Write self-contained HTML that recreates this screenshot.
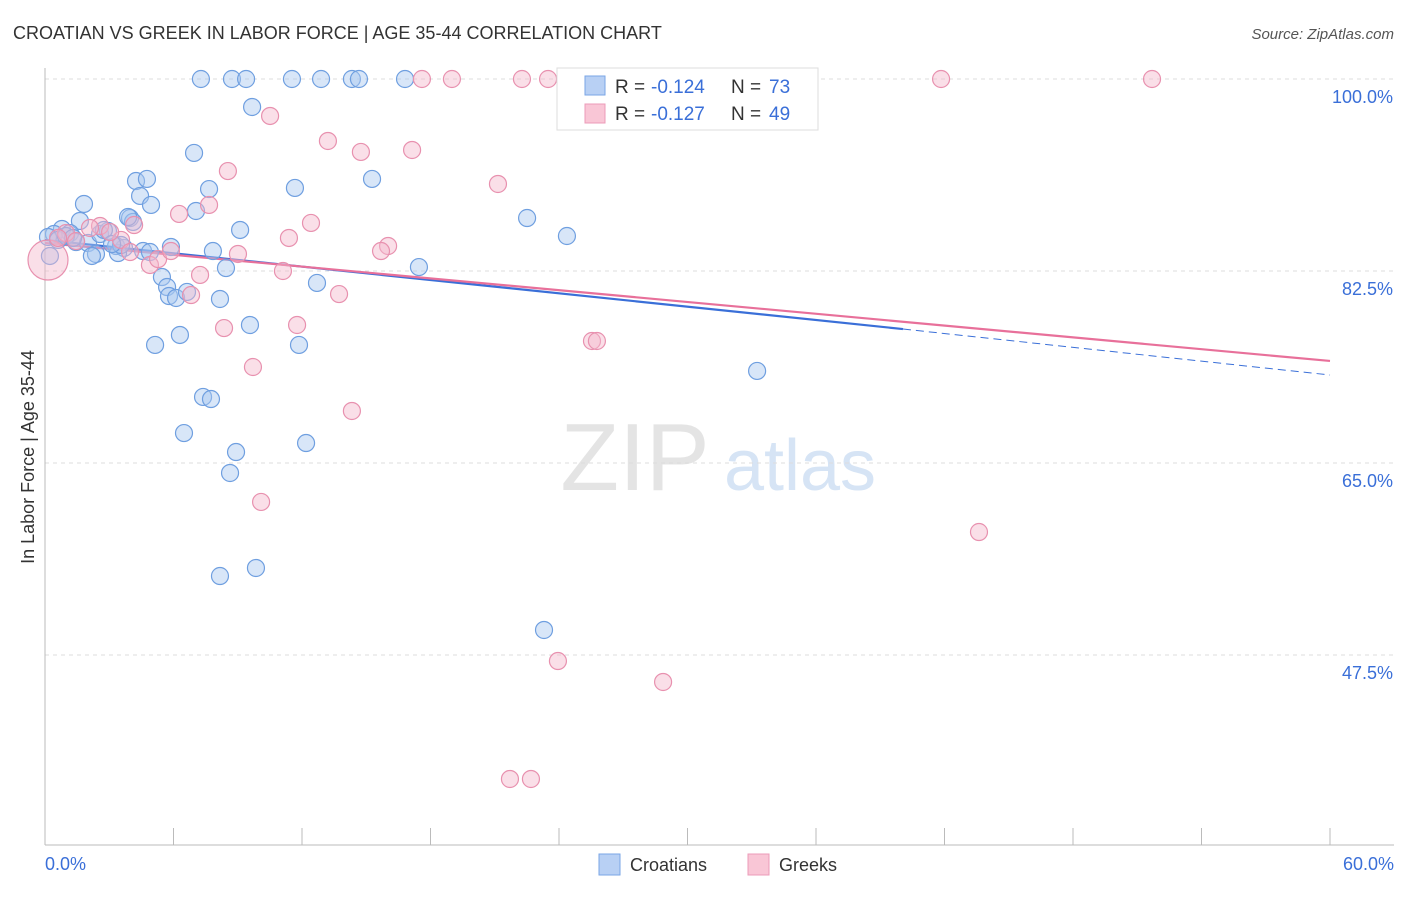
<!DOCTYPE html>
<html><head><meta charset="utf-8"><style>
body{margin:0;background:#fff;font-family:"Liberation Sans",sans-serif}
svg text{font-family:"Liberation Sans",sans-serif}
</style></head><body>
<svg id="chart" width="1406" height="892" viewBox="0 0 1406 892">
<text x="13" y="39" font-size="18" fill="#333">CROATIAN VS GREEK IN LABOR FORCE | AGE 35-44 CORRELATION CHART</text>
<text x="1394" y="39" font-size="15" fill="#555" text-anchor="end" font-style="italic">Source: ZipAtlas.com</text>
<text transform="translate(34,457) rotate(-90)" font-size="18" fill="#333" text-anchor="middle">In Labor Force | Age 35-44</text>
<g><text x="635" y="490" font-size="96" fill="#e4e4e4" text-anchor="middle" font-family="Liberation Serif">ZIP</text><text x="800" y="490" font-size="72" fill="#d6e4f5" text-anchor="middle">atlas</text></g>
<g id="grid"></g><g id="axes"></g><g id="lines"></g><g id="points"></g>
<g>
<rect x="557" y="68" width="261" height="62" fill="#fff" stroke="#ddd"/>
<rect x="585" y="76" width="20" height="19" fill="#b8d0f4" stroke="#7aa6e6"/>
<rect x="585" y="104" width="20" height="19" fill="#f9c6d6" stroke="#ec9bb8"/>
<text x="615" y="93" font-size="19" fill="#333">R =</text><text x="651" y="93" font-size="19" fill="#3a6fd8">-0.124</text>
<text x="731" y="93" font-size="19" fill="#333">N =</text><text x="769" y="93" font-size="19" fill="#3a6fd8">73</text>
<text x="615" y="120" font-size="19" fill="#333">R =</text><text x="651" y="120" font-size="19" fill="#3a6fd8">-0.127</text>
<text x="731" y="120" font-size="19" fill="#333">N =</text><text x="769" y="120" font-size="19" fill="#3a6fd8">49</text>
</g>
<g>
<rect x="599" y="854" width="21" height="21" fill="#b8d0f4" stroke="#7aa6e6"/>
<text x="630" y="871" font-size="18" fill="#333">Croatians</text>
<rect x="748" y="854" width="21" height="21" fill="#f9c6d6" stroke="#ec9bb8"/>
<text x="779" y="871" font-size="18" fill="#333">Greeks</text>
</g>
</svg>
<script>
const yTicks=[100,82.5,65,47.5];
const yTickLabels=["100.0%","82.5%","65.0%","47.5%"];
const xTickLabels=["0.0%","60.0%"];
const croatX=[7.28,8.73,9.39,11.53,12.89,14.33,14.66,16.81,9.67,6.96,4.25,4.76,4.44,4.95,7.66,11.67,15.27,1.82,7.05,9.11,22.51,24.37,1.63,0.79,0.42,1.17,0.14,1.45,2.01,2.57,2.94,3.97,4.11,3.32,3.69,3.41,2.38,4.58,5.88,7.84,8.45,17.46,5.46,5.7,5.79,6.12,6.63,8.17,12.7,9.57,6.3,5.14,11.86,33.25,7.38,7.75,6.49,12.19,8.92,8.64,9.85,8.17,23.3,0.23,0.61,0.98,1.31,2.75,3.55,3.88,3.13,2.19,4.9];
const croatY=[100,100,100,100,100,100,100,100,97.45,93.26,90.7,90.89,89.34,88.52,89.97,90.07,90.89,88.61,87.97,86.24,87.33,85.69,87.06,86.33,85.87,85.96,85.6,85.14,85.05,85.87,86.15,87.33,86.97,84.78,84.6,84.14,84.05,84.32,84.69,84.32,82.77,82.86,81.95,81.04,80.22,80.04,80.59,79.95,81.41,77.58,76.67,75.76,75.76,73.39,71.02,70.83,67.73,66.82,66.0,64.09,55.43,54.7,49.78,83.87,85.33,85.69,85.51,86.24,84.87,87.42,84.96,83.87,84.23];
const greekX=[17.6,19.0,22.27,23.49,24.98,41.84,51.69,10.51,13.21,14.75,17.14,8.54,21.15,7.66,6.26,12.42,11.39,16.02,15.69,9.01,4.9,5.28,5.88,3.55,2.57,4.16,3.04,0.98,2.1,1.45,7.24,6.82,11.11,13.73,8.36,11.77,25.54,25.77,9.71,14.33,10.09,43.61,23.95,28.86,21.71,22.69,0.14,0.61,3.97];
const greekY=[100,100,100,100,100,100,100,96.63,94.35,93.35,93.53,91.61,90.43,88.52,87.7,86.88,85.51,84.78,84.32,84.05,83.05,83.59,84.32,85.33,86.6,86.69,86.05,85.96,86.42,85.23,82.14,80.31,82.5,80.4,77.3,77.58,76.12,76.12,73.75,69.74,61.45,58.71,46.95,45.04,36.2,36.2,83.5,85.51,84.23];
const croatTrend=[85.33,77.21,73.02];
const croatTrendX=[0,40.06,60];
const greekTrend=[85.05,74.3];
const greekTrendX=[0,60];
const NS="http://www.w3.org/2000/svg";
const X=v=>45+v/60*1285, Y=v=>79+(100-v)/17.5*192;
function mk(t,a,p){const e=document.createElementNS(NS,t);for(const k in a)e.setAttribute(k,a[k]);document.getElementById(p).appendChild(e);return e;}
yTicks.forEach((t,i)=>{
 const l=mk('line',{x1:45,x2:1394,y1:Y(t),y2:Y(t),stroke:'#ddd','stroke-dasharray':'4,4'},'grid');
 
 
 const tx=mk('text',{x:1393,y:Y(t)+24,'font-size':18,fill:'#3a6fd8','text-anchor':'end'},'axes');tx.textContent=yTickLabels[i];
 
 
});
const ax=mk('line',{x1:45,x2:45,y1:68,y2:845,stroke:'#bbb'},'axes');


const bx=mk('line',{x1:45,x2:1394,y1:845,y2:845,stroke:'#bbb'},'axes');


for(let i=0;i<=10;i++){const t=mk('line',{x1:X(i*6),x2:X(i*6),y1:828,y2:845,stroke:'#bbb'},'axes');
 
 }
[[0,'start',45],[60,'end',1394]].forEach((d,i)=>{const t=mk('text',{x:d[2],y:870,'font-size':18,fill:'#3a6fd8','text-anchor':d[1]},'axes');t.textContent=xTickLabels[i];
 
 });
function dot(x,y,r,f,s){const c=mk('circle',{cx:X(x),cy:Y(y),r:r,fill:f,'fill-opacity':0.45,stroke:s,'stroke-width':1.2},'points');return c;}
croatX.forEach((x,i)=>{const c=dot(x,croatY[i],8.5,'#a9c8f0','#6f9fe0');
 
 });
greekX.forEach((x,i)=>{const c=dot(x,greekY[i],i==46?20:8.5,'#f5b8cc','#e891af');
 
 });
const b1=mk('line',{x1:X(croatTrendX[0]),y1:Y(croatTrend[0]),x2:X(croatTrendX[1]),y2:Y(croatTrend[1]),stroke:'#3a6fd8','stroke-width':2.2},'lines');


const b2=mk('line',{x1:X(croatTrendX[1]),y1:Y(croatTrend[1]),x2:X(croatTrendX[2]),y2:Y(croatTrend[2]),stroke:'#3a6fd8','stroke-width':1,'stroke-dasharray':'8,5'},'lines');


const p1=mk('line',{x1:X(greekTrendX[0]),y1:Y(greekTrend[0]),x2:X(greekTrendX[1]),y2:Y(greekTrend[1]),stroke:'#e8709a','stroke-width':2.2},'lines');


</script>
</body></html>
